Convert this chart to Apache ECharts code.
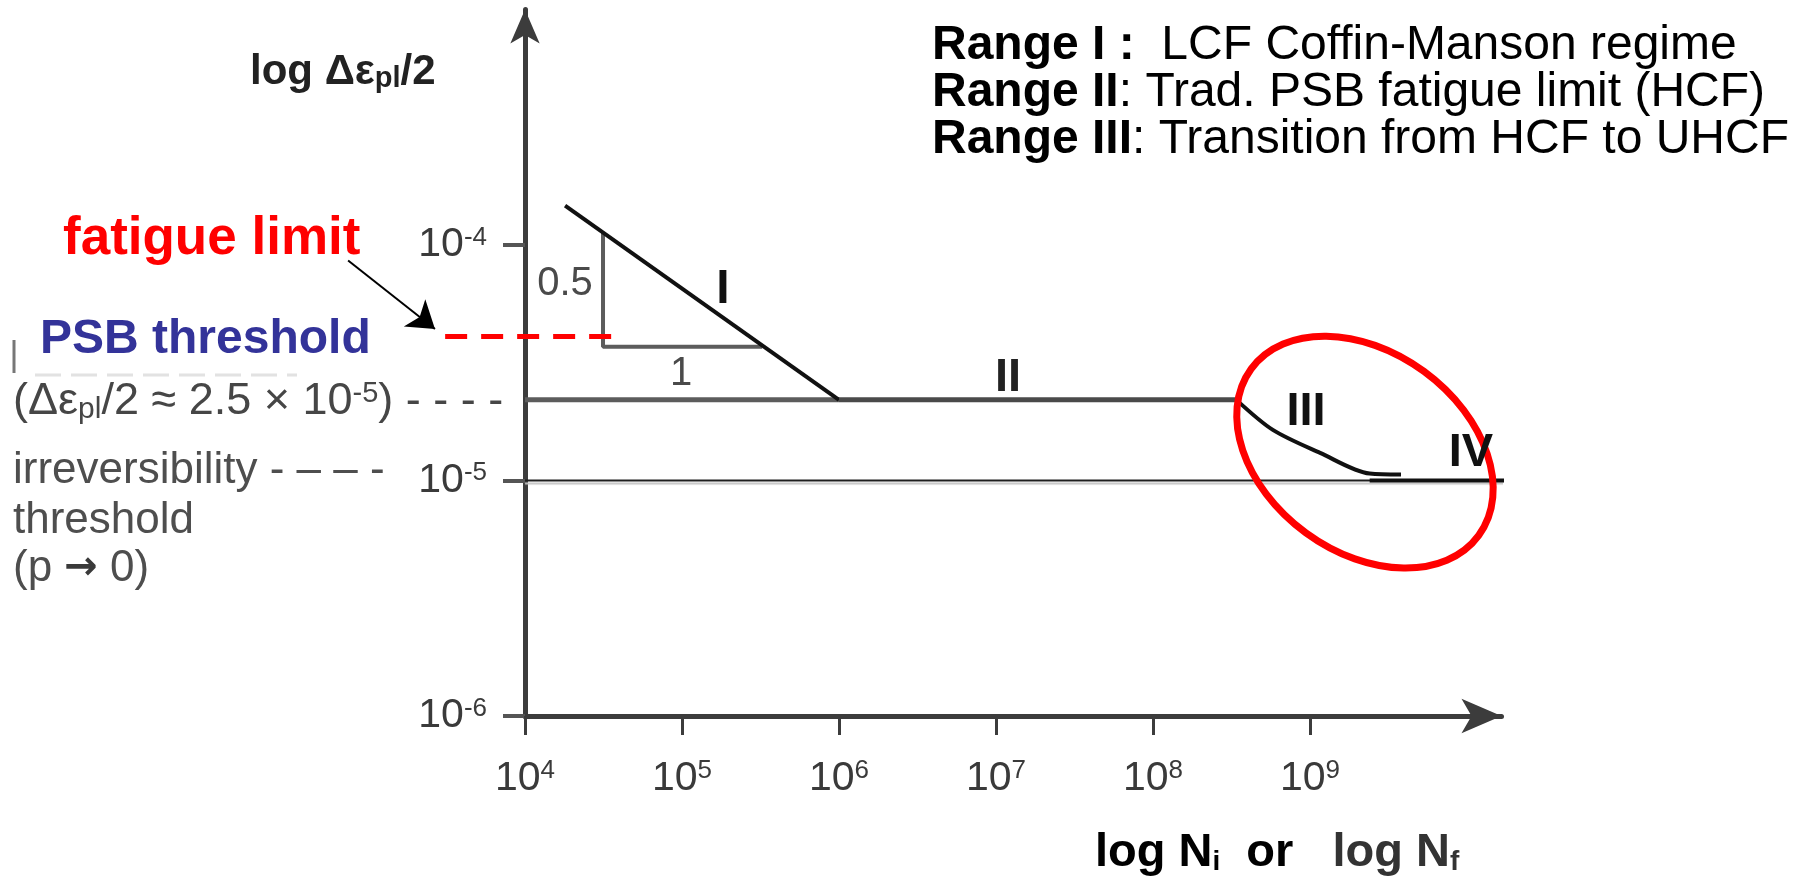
<!DOCTYPE html>
<html>
<head>
<meta charset="utf-8">
<title>Fatigue ranges I - IV</title>
<script src="https://cdn.jsdelivr.net/npm/echarts@6/dist/echarts.min.js"></script>
<style>
    html, body { margin: 0; padding: 0; background: #fff; }
    #chart { width: 1803px; height: 883px; }
</style>
</head>
<body>
<div id="chart"></div>
<script>
/* values: x = cycles N, y = plastic strain amplitude */
const xTicks = [1e4, 1e5, 1e6, 1e7, 1e8, 1e9];
const yTicks = [1e-6, 1e-5, 1e-4];

const rangeI = [[1.8e4, 1.47e-4], [1e6, 2.2e-5]];
const rangeII = [[1e6, 2.2e-5], [3.4e8, 2.2e-5]];
const rangeIII = [[3.4e8, 2.2e-5], [5.8e8, 1.64e-5], [1.16e9, 1.31e-5], [2.4e9, 1.07e-5], [3.8e9, 1.06e-5]];
const rangeIV = [[2.4e9, 1e-5], [1.8e10, 1e-5]];
const psbLine = [[1e4, 2.2e-5], [1e6, 2.2e-5]];
const irrevLine = [[1e4, 1e-5], [1.8e10, 1e-5]];
const slopeTriangle = [[3.14e4, 1.13e-4], [3.14e4, 3.7e-5], [3.24e5, 3.7e-5]];
const fatigueLimit = [[3.1e3, 4.1e-5], [3.86e4, 4.1e-5]];
const fatigueArrow = [[747, 8.6e-5], [2670, 4.4e-5]];
const rangeIIIFocus = [2.24e9, 1.32e-5];

const sans = "'Liberation Sans', Arial, sans-serif";

const lg = Math.log10;
const toLog = pts => pts.map(p => [lg(p[0]), lg(p[1])]);

let chart = echarts.init(document.getElementById('chart'));

function curve(name, pts, color, width, more) {
    return Object.assign({
        name: name,
        type: 'line',
        data: toLog(pts),
        symbol: 'none',
        clip: false,
        animation: false,
        z: 3,
        lineStyle: { color: color, width: width }
    }, more || {});
}

// straight annotation segments that may reach outside the grid
function segment(name, pts, lineStyle, more) {
    return Object.assign({
        name: name,
        type: 'lines',
        coordinateSystem: 'cartesian2d',
        clip: false,
        z: 5,
        lineStyle: Object.assign({ opacity: 1 }, lineStyle),
        data: [{ coords: toLog(pts) }]
    }, more || {});
}

function label(x, y, text, size, opts) {
    return {
        type: 'text', x: x, y: y, z: 20,
        style: Object.assign({
            text: text, fontFamily: sans, fontSize: size, fill: '#000',
            align: 'left', verticalAlign: 'middle'
        }, opts || {})
    };
}

// superscript / subscript pieces for rich text
function supStyle(size, color, lh) {
    return { fontFamily: sans, fontSize: size, fill: color, color: color, verticalAlign: 'top', lineHeight: lh };
}
function subStyle(size, color, lh, bold) {
    return { fontFamily: sans, fontSize: size, fill: color, color: color, fontWeight: bold ? 'bold' : 'normal', verticalAlign: 'bottom', lineHeight: lh };
}

const tickColor = '#3c3c3c';
const labelColor = '#3a3a3a';
const tickRich = {
    b: { fontFamily: sans, fontSize: 41, color: labelColor },
    s: supStyle(26, labelColor, 22)
};
const boldTok = { fontFamily: sans, fontSize: 48, fontWeight: 'bold', fill: '#000' };

let graphics = [
    label(250, 72, 'log Δε{sub|pl}/2', 42, { fontWeight: 'bold', fill: '#222', rich: { sub: subStyle(29, '#222', 6, true) } }),
    label(63, 239, 'fatigue limit', 53, { fontWeight: 'bold', fill: '#ff0000' }),
    label(40, 340, 'PSB threshold', 48, { fontWeight: 'bold', fill: '#333399' }),
    label(13, 402, '(Δε{sub|pl}/2 ≈ 2.5 × 10{sup|-5}) - - - -', 45, {
        fill: '#464646',
        rich: { sub: subStyle(30, '#464646', 6), sup: supStyle(29, '#464646', 20) }
    }),
    label(13, 471, 'irreversibility - – – -', 44, { fill: '#4e4e4e' }),
    label(13, 521, 'threshold', 44, { fill: '#4e4e4e' }),
    label(13, 569, '(p {arr|→} 0)', 44, {
        fill: '#4e4e4e',
        rich: { arr: { fontFamily: "'DejaVu Sans', sans-serif", fontSize: 40, fontWeight: 'bold', fill: '#3a3a3a' } }
    }),
    label(565, 284, '0.5', 40, { align: 'center', fill: '#4a4a4a' }),
    label(681, 374, '1', 40, { align: 'center', fill: '#4a4a4a' }),
    label(723, 290, 'I', 48, { align: 'center', fontWeight: 'bold', fill: '#111' }),
    label(1008, 378, 'II', 47, { align: 'center', fontWeight: 'bold', fill: '#222' }),
    label(1306, 412, 'III', 47, { align: 'center', fontWeight: 'bold', fill: '#111' }),
    label(1471, 453, 'IV', 47, { align: 'center', fontWeight: 'bold', fill: '#111' }),
    label(1095, 853, 'log N{sub|i}  or   {g|log N}{gsub|f}', 47, {
        fontWeight: 'bold',
        rich: {
            sub: subStyle(28, '#000', 8, true),
            g: { fontFamily: sans, fontSize: 47, fontWeight: 'bold', fill: '#333' },
            gsub: subStyle(28, '#333', 8, true)
        }
    }),
    label(932, 46, '{b|Range I :}  LCF Coffin-Manson regime', 48, { rich: { b: boldTok } }),
    label(932, 93, '{b|Range II}: Trad. PSB fatigue limit (HCF)', 48, { rich: { b: boldTok } }),
    label(932, 140, '{b|Range III}: Transition from HCF to UHCF', 48, { rich: { b: boldTok } }),
    // left-over strokes of the covered label
    { type: 'line', z: 5, shape: { x1: 14, y1: 340, x2: 14, y2: 373 }, style: { stroke: '#777', lineWidth: 3 } },
    { type: 'line', z: 5, shape: { x1: 35, y1: 375, x2: 297, y2: 375 }, style: { stroke: '#e2e2e2', lineWidth: 3, lineDash: [26, 10] } }
];

let option = {
    animation: false,
    backgroundColor: '#fff',
    grid: { left: 525, top: 9.5, right: 301.5, bottom: 167 },
    xAxis: {
        type: 'value',
        min: 4,
        max: 10.22,
        interval: 1,
        splitLine: { show: false },
        axisLine: {
            show: true, onZero: false,
            symbol: ['none', 'arrow'], symbolSize: [26, 40],
            lineStyle: { color: tickColor, width: 5 }
        },
        axisTick: {
            show: true, customValues: xTicks.map(lg), length: 19,
            lineStyle: { color: tickColor, width: 3 }
        },
        axisLabel: {
            customValues: xTicks.map(lg),
            margin: 42,
            formatter: v => '{b|10}{s|' + Math.round(v) + '}',
            rich: tickRich
        }
    },
    yAxis: {
        type: 'value',
        min: -6,
        max: -3,
        interval: 1,
        splitLine: { show: false },
        axisLine: {
            show: true, onZero: false,
            symbol: ['none', 'arrow'], symbolSize: [22, 34],
            lineStyle: { color: tickColor, width: 5 }
        },
        axisTick: {
            show: true, customValues: yTicks.map(lg), length: 22,
            lineStyle: { color: '#555', width: 4 }
        },
        axisLabel: {
            customValues: yTicks.map(lg),
            margin: 38,
            formatter: v => '{b|10}{s|' + Math.round(v) + '}',
            rich: tickRich
        }
    },
    series: [
        curve('irreversibility threshold', irrevLine, '#1e1e1e', 2, {
            z: 2,
            lineStyle: { color: '#1e1e1e', width: 2, shadowColor: '#c4c4c4', shadowOffsetY: 3, shadowBlur: 1 }
        }),
        curve('PSB threshold', psbLine, '#5c5c5c', 5, { z: 2 }),
        curve('slope 0.5', slopeTriangle, '#5c5c5c', 4, { z: 2 }),
        curve('Range I', rangeI, '#111', 4),
        curve('Range II', rangeII, '#4a4a4a', 5),
        curve('Range III', rangeIII, '#111', 4, { smooth: 0.3 }),
        curve('Range IV', rangeIV, '#111', 4),
        segment('fatigue limit', fatigueLimit, { color: '#ff0000', width: 5, type: [22, 14] }),
        segment('fatigue limit arrow', fatigueArrow, { color: '#000', width: 2 }, {
            symbol: ['none', 'arrow'],
            symbolSize: [16, 26]
        })
    ],
    graphic: graphics
};

chart.setOption(option);

// red ellipse around range III, centred through the axes
let c = chart.convertToPixel({ gridIndex: 0 }, [lg(rangeIIIFocus[0]), lg(rangeIIIFocus[1])]);
graphics.push({
    type: 'ellipse', z: 15,
    x: c[0], y: c[1],
    rotation: -36.2 * Math.PI / 180,
    shape: { cx: 0, cy: 0, rx: 141, ry: 100 },
    style: { fill: 'none', stroke: '#ff0000', lineWidth: 7 }
});
chart.setOption({ graphic: graphics });
</script>
</body>
</html>
